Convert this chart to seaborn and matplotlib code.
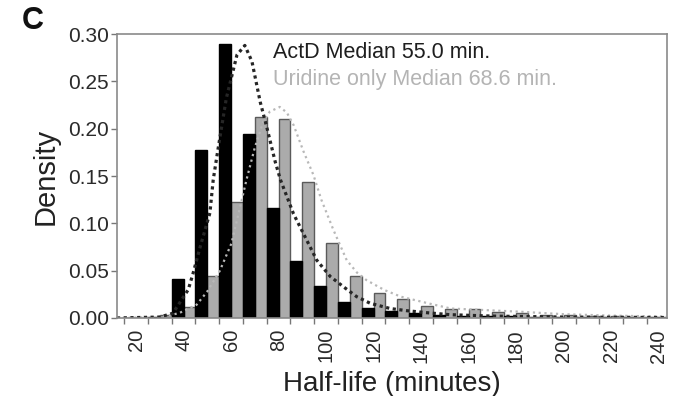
import numpy as np
import pandas as pd
import matplotlib
matplotlib.use("Agg")
import matplotlib.pyplot as plt
import seaborn as sns

# Histogram bins (centres, minutes) and per-bin densities
bin_centers = [20, 30, 40, 50, 60, 70, 80, 90, 100, 110, 120, 130, 140, 150,
               160, 170, 180, 190, 200, 210, 220, 230, 240]
actd_density = [0.0005, 0.0015, 0.041, 0.177, 0.289, 0.194, 0.1165, 0.060, 0.034,
                0.0166, 0.0102, 0.0077, 0.005, 0.0032, 0.0021, 0.0021, 0.002,
                0.0012, 0.0012, 0.001, 0.001, 0.0008, 0.0008]
uridine_density = [0.0005, 0.0035, 0.0113, 0.0443, 0.123, 0.2126, 0.2098, 0.144,
                   0.0789, 0.0443, 0.026, 0.0197, 0.013, 0.0092, 0.0092, 0.0067,
                   0.0056, 0.003, 0.003, 0.0025, 0.0025, 0.0015, 0.0015]

# Fitted density curves
actd_fit_x = [12, 30, 35.5, 42, 44, 47, 51.1, 52.5, 54.3, 58, 62.5, 65.8, 68.8,
              72.3, 75.2, 78.6, 80.8, 86.3, 90.5, 96.1, 101.7, 107.3, 112.9,
              118.6, 127, 134, 142.4, 152, 170, 200, 243]
actd_fit_y = [0.0, 0.001, 0.005, 0.03, 0.047, 0.075, 0.111, 0.146, 0.175, 0.232,
              0.278, 0.288, 0.271, 0.228, 0.2, 0.165, 0.146, 0.11, 0.089, 0.061,
              0.044, 0.033, 0.0225, 0.0155, 0.010, 0.0077, 0.0056, 0.0035, 0.002,
              0.001, 0.0005]
uridine_fit_x = [12, 30, 38, 45.5, 50, 55.3, 60.2, 66.5, 70, 73.5, 76.3, 80.5,
                 83.5, 86.3, 90.5, 94.7, 98, 103.1, 108.7, 113, 117, 124.5, 131.5,
                 143, 152.5, 166.5, 181, 200, 220, 243]
uridine_fit_y = [0.0, 0.001, 0.005, 0.014, 0.028, 0.05, 0.079, 0.146, 0.18, 0.207,
                 0.218, 0.223, 0.217, 0.204, 0.176, 0.151, 0.125, 0.093, 0.061,
                 0.048, 0.040, 0.0296, 0.0225, 0.0155, 0.010, 0.0084, 0.0067,
                 0.004, 0.0025, 0.0015]

series_names = ["ActD", "Uridine only"]
legend_texts = ["ActD Median 55.0 min.", "Uridine only Median 68.6 min."]
x_ticks = list(range(20, 241, 20))
y_ticks = [0.00, 0.05, 0.10, 0.15, 0.20, 0.25, 0.30]

sns.set_style("ticks")
plt.rcParams["font.family"] = ["Liberation Sans", "DejaVu Sans"]

df = pd.DataFrame({
    "halflife": bin_centers * 2,
    "density": actd_density + uridine_density,
    "group": [series_names[0]] * len(bin_centers) + [series_names[1]] * len(bin_centers),
})

fig = plt.figure(figsize=(6.74, 3.96), dpi=100)
ax = fig.add_axes([0.1736, 0.197, 0.816, 0.717])

palette = {"ActD": "#000000", "Uridine only": "#ababab"}
sns.histplot(data=df, x="halflife", weights="density", hue="group",
             hue_order=series_names, palette=palette, binwidth=10,
             binrange=(15, 245), multiple="dodge", shrink=1, alpha=1,
             legend=False, ax=ax, linewidth=1.0)

# outline colours per group
for patch in ax.patches:
    fc = patch.get_facecolor()
    if fc[0] < 0.3:
        patch.set_edgecolor("#000000")
    else:
        patch.set_edgecolor("#5a5a5a")

sns.lineplot(x=uridine_fit_x, y=uridine_fit_y, sort=False, ax=ax,
             color="#b8b8b8", linewidth=1.6, linestyle=(0, (1, 1.6)))
sns.lineplot(x=actd_fit_x, y=actd_fit_y, sort=False, ax=ax,
             color="#262626", linewidth=2.3, linestyle=(0, (1, 1.1)))

ax.set_xlim(12, 243.5)
ax.set_ylim(0, 0.30)
ax.set_xticks(x_ticks)
ax.set_xticklabels([str(t) for t in x_ticks], rotation=90, fontsize=14.5,
                   color="#2a2a2a")
ax.set_xticks(np.arange(15, 241, 10), minor=True)
ax.tick_params(axis="x", which="major", length=0, pad=8)
ax.tick_params(axis="x", which="minor", length=4, width=1, color="#777777")
ax.set_yticks(y_ticks)
ax.set_yticklabels([f"{t:.2f}" for t in y_ticks], fontsize=15, color="#2a2a2a")
ax.tick_params(axis="y", length=4, width=1, color="#777777", pad=2)

for side in ["left", "right", "top", "bottom"]:
    ax.spines[side].set_visible(True)
    ax.spines[side].set_color("#8a8a8a")
    ax.spines[side].set_linewidth(1.2)

ax.set_xlabel("Half-life (minutes)", fontsize=20, color="#222222", labelpad=6)
ax.set_ylabel("Density", fontsize=21, color="#222222", labelpad=6)

ax.text(0.283, 0.935, legend_texts[0], transform=ax.transAxes, fontsize=15.5,
        color="#1e1e1e", va="center", ha="left")
ax.text(0.283, 0.84, legend_texts[1], transform=ax.transAxes, fontsize=15.5,
        color="#b4b4b4", va="center", ha="left")

fig.text(0.032, 0.948, "C", fontsize=22, fontweight="bold", color="#111111",
         va="center", ha="left")

fig.savefig("out.png", dpi=100)
